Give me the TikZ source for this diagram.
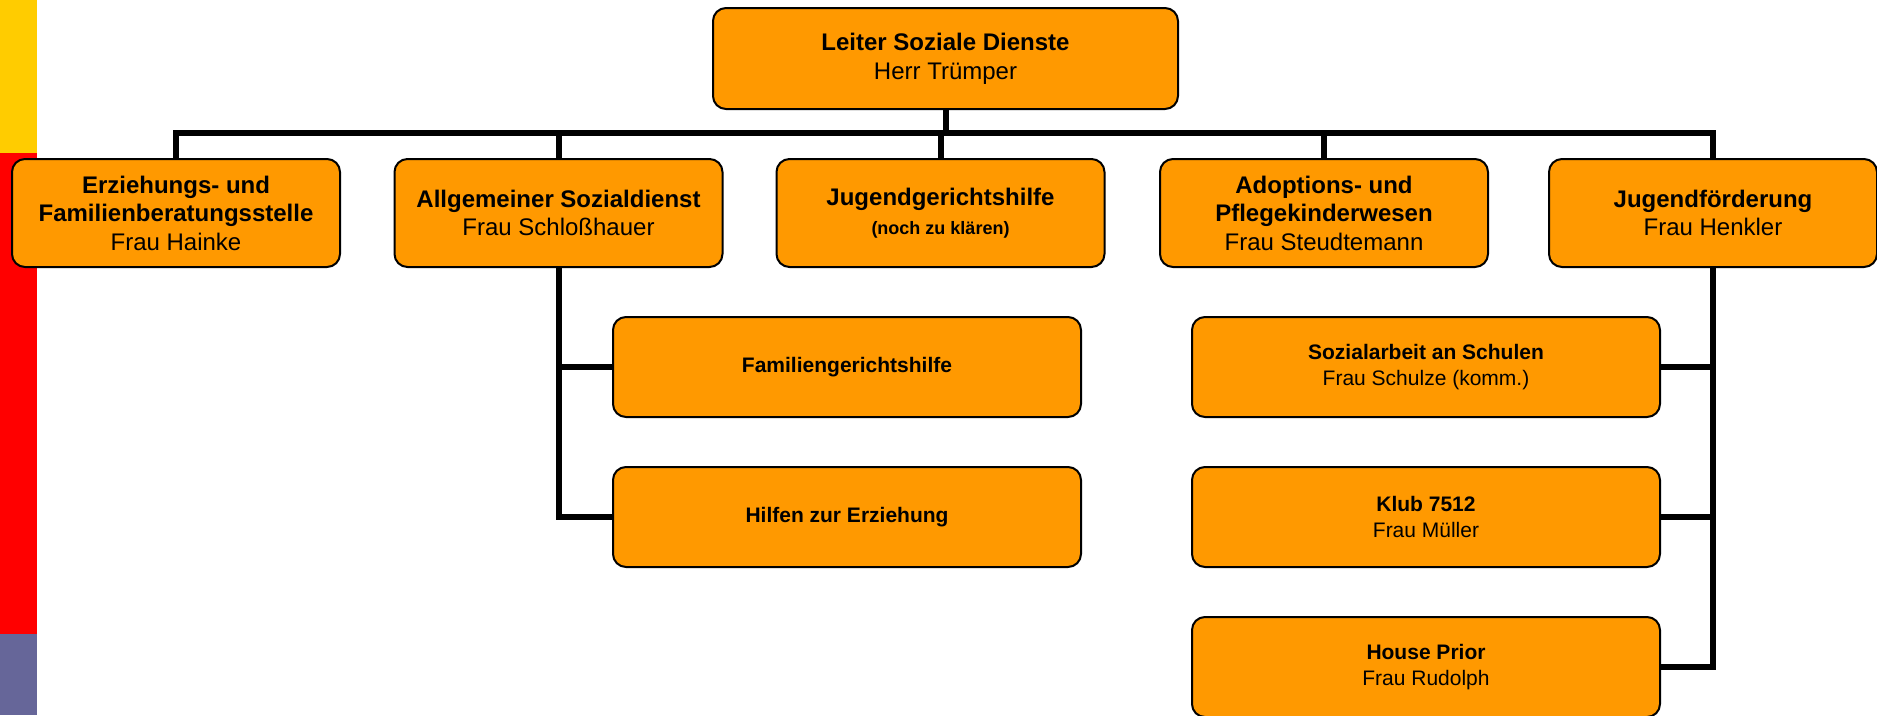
\documentclass[tikz,border=0pt]{standalone}
\usepackage{fontspec}
\setmainfont{Liberation Sans}
\definecolor{boxorange}{RGB}{255,153,0}
\definecolor{stripeY}{RGB}{255,204,0}
\definecolor{stripeR}{RGB}{255,0,0}
\definecolor{stripeB}{RGB}{102,102,153}
\begin{document}
\begin{tikzpicture}[x=1pt,y=-1pt,
  box/.style={draw=black, line width=2pt, fill=boxorange, rounded corners=13pt, align=center, inner sep=0pt, text=black},
  topbox/.style={box, minimum width=465pt, minimum height=101pt, font=\fontsize{24}{29}\selectfont},
  mainbox/.style={box, minimum width=328pt, minimum height=108pt, font=\fontsize{24}{28.5}\selectfont},
  subbox/.style={box, minimum width=468pt, minimum height=100pt, font=\fontsize{21}{25.5}\selectfont},
  conn/.style={line width=6pt, draw=black, line join=miter}
]
\useasboundingbox (0,0) rectangle (1877,715);
% left stripe
\fill[stripeY] (0,0) rectangle (37,153);
\fill[stripeR] (0,153) rectangle (37,634);
\fill[stripeB] (0,634) rectangle (37,715);

% nodes
\node[topbox] (top) at (945.5,58.5) {\textbf{Leiter Soziale Dienste}\\Herr Trümper};
\node[mainbox] (b1) at (176,213) {\textbf{Erziehungs- und}\\\textbf{Familienberatungsstelle}\\Frau Hainke};
\node[mainbox] (b2) at (558.5,213) {\textbf{Allgemeiner Sozialdienst}\\Frau Schloßhauer};
\node[mainbox] (b3) at (940.5,213) {\textbf{Jugendgerichtshilfe}\\{\fontsize{18}{22}\selectfont\bfseries (noch zu klären)}};
\node[mainbox] (b4) at (1324,213) {\textbf{Adoptions- und}\\\textbf{Pflegekinderwesen}\\Frau Steudtemann};
\node[mainbox] (b5) at (1713,213) {\textbf{Jugendförderung}\\Frau Henkler};

\node[subbox] (s1) at (847,367) {\textbf{Familiengerichtshilfe}};
\node[subbox] (s2) at (847,517) {\textbf{Hilfen zur Erziehung}};
\node[subbox] (s3) at (1426,367) {\textbf{Sozialarbeit an Schulen}\\Frau Schulze (komm.)};
\node[subbox] (s4) at (1426,517) {\textbf{Klub 7512}\\Frau Müller};
\node[subbox] (s5) at (1426,667) {\textbf{House Prior}\\Frau Rudolph};

% connectors
\coordinate (bus) at (0,133);
\draw[conn] (top.south) -- (top.south |- bus);
\draw[conn] (b1.north) -- (b1.north |- bus) -- (b5.north |- bus) -- (b5.north);
\foreach \n in {b2,b3,b4} \draw[conn] (\n.north) -- (\n.north |- bus);

\draw[conn] (b2.south) |- (s2.west);
\draw[conn] (s1.west) -- (s1.west -| b2.south);

\draw[conn] (b5.south) |- (s5.east);
\draw[conn] (s3.east) -- (s3.east -| b5.south);
\draw[conn] (s4.east) -- (s4.east -| b5.south);
\end{tikzpicture}
\end{document}
